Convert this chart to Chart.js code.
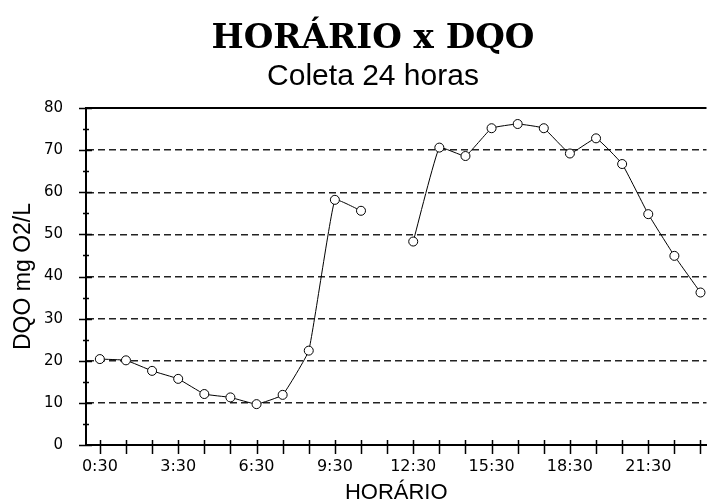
<!DOCTYPE html>
<html>
<head>
<meta charset="utf-8">
<script src="https://cdn.jsdelivr.net/npm/chart.js@4/dist/chart.umd.min.js"></script>
<style>
  html, body { margin: 0; padding: 0; background: #fff; }
  #wrap { width: 712px; height: 504px; }
</style>
</head>
<body>
<div id="wrap"><canvas id="grafico"></canvas></div>
<script>
// --- Dados ---
const horarios = ['0:30', '1:30', '2:30', '3:30', '4:30', '5:30', '6:30', '7:30',
  '8:30', '9:30', '10:30', '11:30', '12:30', '13:30', '14:30', '15:30',
  '16:30', '17:30', '18:30', '19:30', '20:30', '21:30', '22:30', '23:30'];
const dqo = [20.4, 20.1, 17.6, 15.7, 12.1, 11.3, 9.7, 11.9,
  22.4, 58.2, 55.6, null, 48.3, 70.6, 68.6, 75.2,
  76.2, 75.2, 69.2, 72.8, 66.7, 54.8, 44.9, 36.2];
const rotulosX = ['0:30', '3:30', '6:30', '9:30', '12:30', '15:30', '18:30', '21:30'];
const rotulosY = [0, 10, 20, 30, 40, 50, 60, 70, 80];

// --- Marcas dos eixos (cruzando a linha) e moldura superior ---
const marcasEixos = {
  id: 'marcasEixos',
  afterDraw(chart) {
    const { ctx, chartArea, scales: { x, y } } = chart;
    ctx.save();
    ctx.strokeStyle = '#000';
    ctx.lineWidth = 2;
    ctx.beginPath();
    ctx.moveTo(chartArea.left, chartArea.top);
    ctx.lineTo(chartArea.right, chartArea.top);
    ctx.stroke();
    ctx.lineWidth = 1.5;
    ctx.beginPath();
    y.ticks.forEach(t => {
      const py = Math.round(y.getPixelForValue(t.value)) + 0.5;
      const maior = rotulosY.includes(t.value);
      ctx.moveTo(chartArea.left - (maior ? 7 : 3), py);
      ctx.lineTo(chartArea.left + (maior ? 6 : 3), py);
    });
    x.ticks.forEach(t => {
      const px = Math.round(x.getPixelForValue(t.value)) + 0.5;
      ctx.moveTo(px, chartArea.bottom - 5);
      ctx.lineTo(px, chartArea.bottom + 9);
    });
    ctx.stroke();
    ctx.restore();
  }
};

new Chart(document.getElementById('grafico'), {
  type: 'line',
  data: {
    datasets: [{
      data: dqo.map((v, i) => ({ x: i, y: v })),
      borderColor: '#000',
      borderWidth: 1,
      tension: 0.1,
      spanGaps: false,
      pointRadius: 4.5,
      pointBorderWidth: 1,
      pointBorderColor: '#000',
      pointBackgroundColor: '#fff'
    }]
  },
  options: {
    responsive: true,
    maintainAspectRatio: false,
    animation: false,
    layout: { padding: { left: 34, right: 0, top: 0, bottom: 0 } },
    plugins: {
      legend: { display: false },
      tooltip: { enabled: false },
      title: {
        display: true,
        text: 'HORÁRIO x DQO',
        color: '#000',
        font: { family: 'DejaVu Serif', size: 34, weight: 'bold', lineHeight: 1 },
        padding: { top: 22, bottom: 2 }
      },
      subtitle: {
        display: true,
        text: 'Coleta 24 horas',
        color: '#000',
        font: { family: 'Liberation Sans', size: 30, lineHeight: 1 },
        padding: { top: 4, bottom: 16 }
      }
    },
    scales: {
      x: {
        type: 'linear',
        min: -0.53,
        max: 23.23,
        afterFit: s => { s.height = 59; },
        ticks: {
          stepSize: 1,
          includeBounds: false,
          autoSkip: false,
          maxRotation: 0,
          padding: 3,
          color: '#000',
          font: { family: 'DejaVu Sans', size: 16 },
          callback: v => rotulosX.includes(horarios[v]) ? horarios[v] : ''
        },
        grid: { drawOnChartArea: false, drawTicks: true, tickLength: 9, tickColor: 'rgba(0,0,0,0)' },
        border: { display: true, color: '#000', width: 2 },
        title: {
          display: true,
          text: 'HORÁRIO',
          color: '#000',
          font: { family: 'Liberation Sans', size: 22, lineHeight: 1 },
          padding: { top: 0, bottom: 0 }
        }
      },
      y: {
        min: 0,
        max: 80,
        afterFit: s => { s.width = 52; },
        ticks: {
          stepSize: 5,
          padding: 16,
          color: '#000',
          font: { family: 'DejaVu Sans', size: 15 },
          callback: v => rotulosY.includes(v) ? v : ''
        },
        grid: {
          drawTicks: true,
          tickLength: 7,
          tickColor: 'rgba(0,0,0,0)',
          lineWidth: 1.5,
          color: c => (c.tick && c.tick.value % 10 === 0 && c.tick.value > 0 && c.tick.value < 80) ? '#222' : 'rgba(0,0,0,0)'
        },
        border: { display: true, color: '#000', width: 2, dash: [7, 4] },
        title: {
          display: true,
          text: 'DQO mg O2/L',
          color: '#000',
          font: { family: 'Liberation Sans', size: 23, lineHeight: 1 },
          padding: { top: -21.5, bottom: 0 }
        }
      }
    }
  },
  plugins: [marcasEixos]
});
</script>
</body>
</html>
